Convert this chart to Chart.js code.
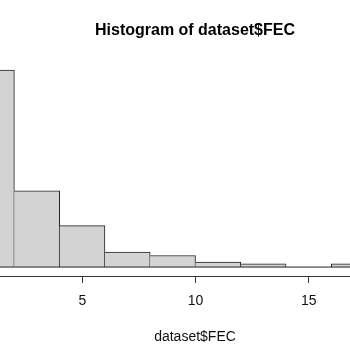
<!DOCTYPE html>
<html>
<head>
<meta charset="utf-8">
<script src="https://cdn.jsdelivr.net/npm/chart.js@4/dist/chart.umd.min.js"></script>
<style>
  html, body { margin: 0; padding: 0; background: #fff; }
  #wrap { width: 350px; height: 350px; overflow: hidden; position: relative; }
  canvas { display: block; }
</style>
</head>
<body>
<div id="wrap"><canvas id="c" width="390" height="350"></canvas></div>
<script>
// Histogram bins of dataset$FEC (bin width 2)
const binEdges = [0, 2, 4, 6, 8, 10, 12, 14, 16, 18];
const counts = [119, 46, 25, 9, 7, 3, 2, 0, 2];
const xTickValues = [5, 10, 15];
const titleText = 'Histogram of dataset$FEC';
const xLabel = 'dataset$FEC';

const barData = counts.map((c, i) => ({ x: (binEdges[i] + binEdges[i + 1]) / 2, y: c }));
const baseData = binEdges.map(e => ({ x: e, y: 0 }));

new Chart(document.getElementById('c'), {
  type: 'bar',
  data: {
    datasets: [
      {
        type: 'line',
        data: baseData,
        borderColor: '#222',
        borderWidth: 1,
        pointRadius: 0,
        fill: false,
        order: 0
      },
      {
        data: barData,
        backgroundColor: '#D3D3D3',
        borderColor: '#222',
        borderSkipped: false,
        borderWidth: ctx => ({
          top: 1, right: 1, bottom: 0,
          left: (ctx.dataIndex === 0 || counts[ctx.dataIndex - 1] === 0) ? 1 : 0
        }),
        barPercentage: 1,
        categoryPercentage: 1,
        order: 1
      }
    ]
  },
  options: {
    responsive: false,
    animation: false,
    devicePixelRatio: 1,
    layout: { padding: { left: 0, right: 0, top: 0, bottom: 4.4 } },
    plugins: {
      legend: { display: false },
      tooltip: { enabled: false },
      title: {
        display: true,
        text: titleText,
        color: '#000',
        font: { family: 'Liberation Sans', size: 16, weight: 'bold', lineHeight: 1.2 },
        padding: { top: 21, bottom: 9.8 }
      }
    },
    scales: {
      x: {
        type: 'linear',
        min: 1.365,
        max: 18.59,
        offset: false,
        afterBuildTicks: axis => { axis.ticks = xTickValues.map(v => ({ value: v })); },
        ticks: {
          includeBounds: false,
          color: '#111',
          padding: 10,
          maxRotation: 0,
          font: { family: 'Liberation Sans', size: 14, lineHeight: 1.2 }
        },
        grid: { offset: false, drawOnChartArea: false, drawTicks: true, tickLength: 7, color: '#333', lineWidth: 1 },
        border: { display: true, color: '#333', width: 1 },
        title: {
          display: true,
          text: xLabel,
          color: '#111',
          font: { family: 'Liberation Sans', size: 14, lineHeight: 1.2 },
          padding: { top: 9, bottom: 0 }
        }
      },
      y: {
        display: false,
        min: -5.4,
        max: 131.1
      }
    }
  }
});
</script>
</body>
</html>
